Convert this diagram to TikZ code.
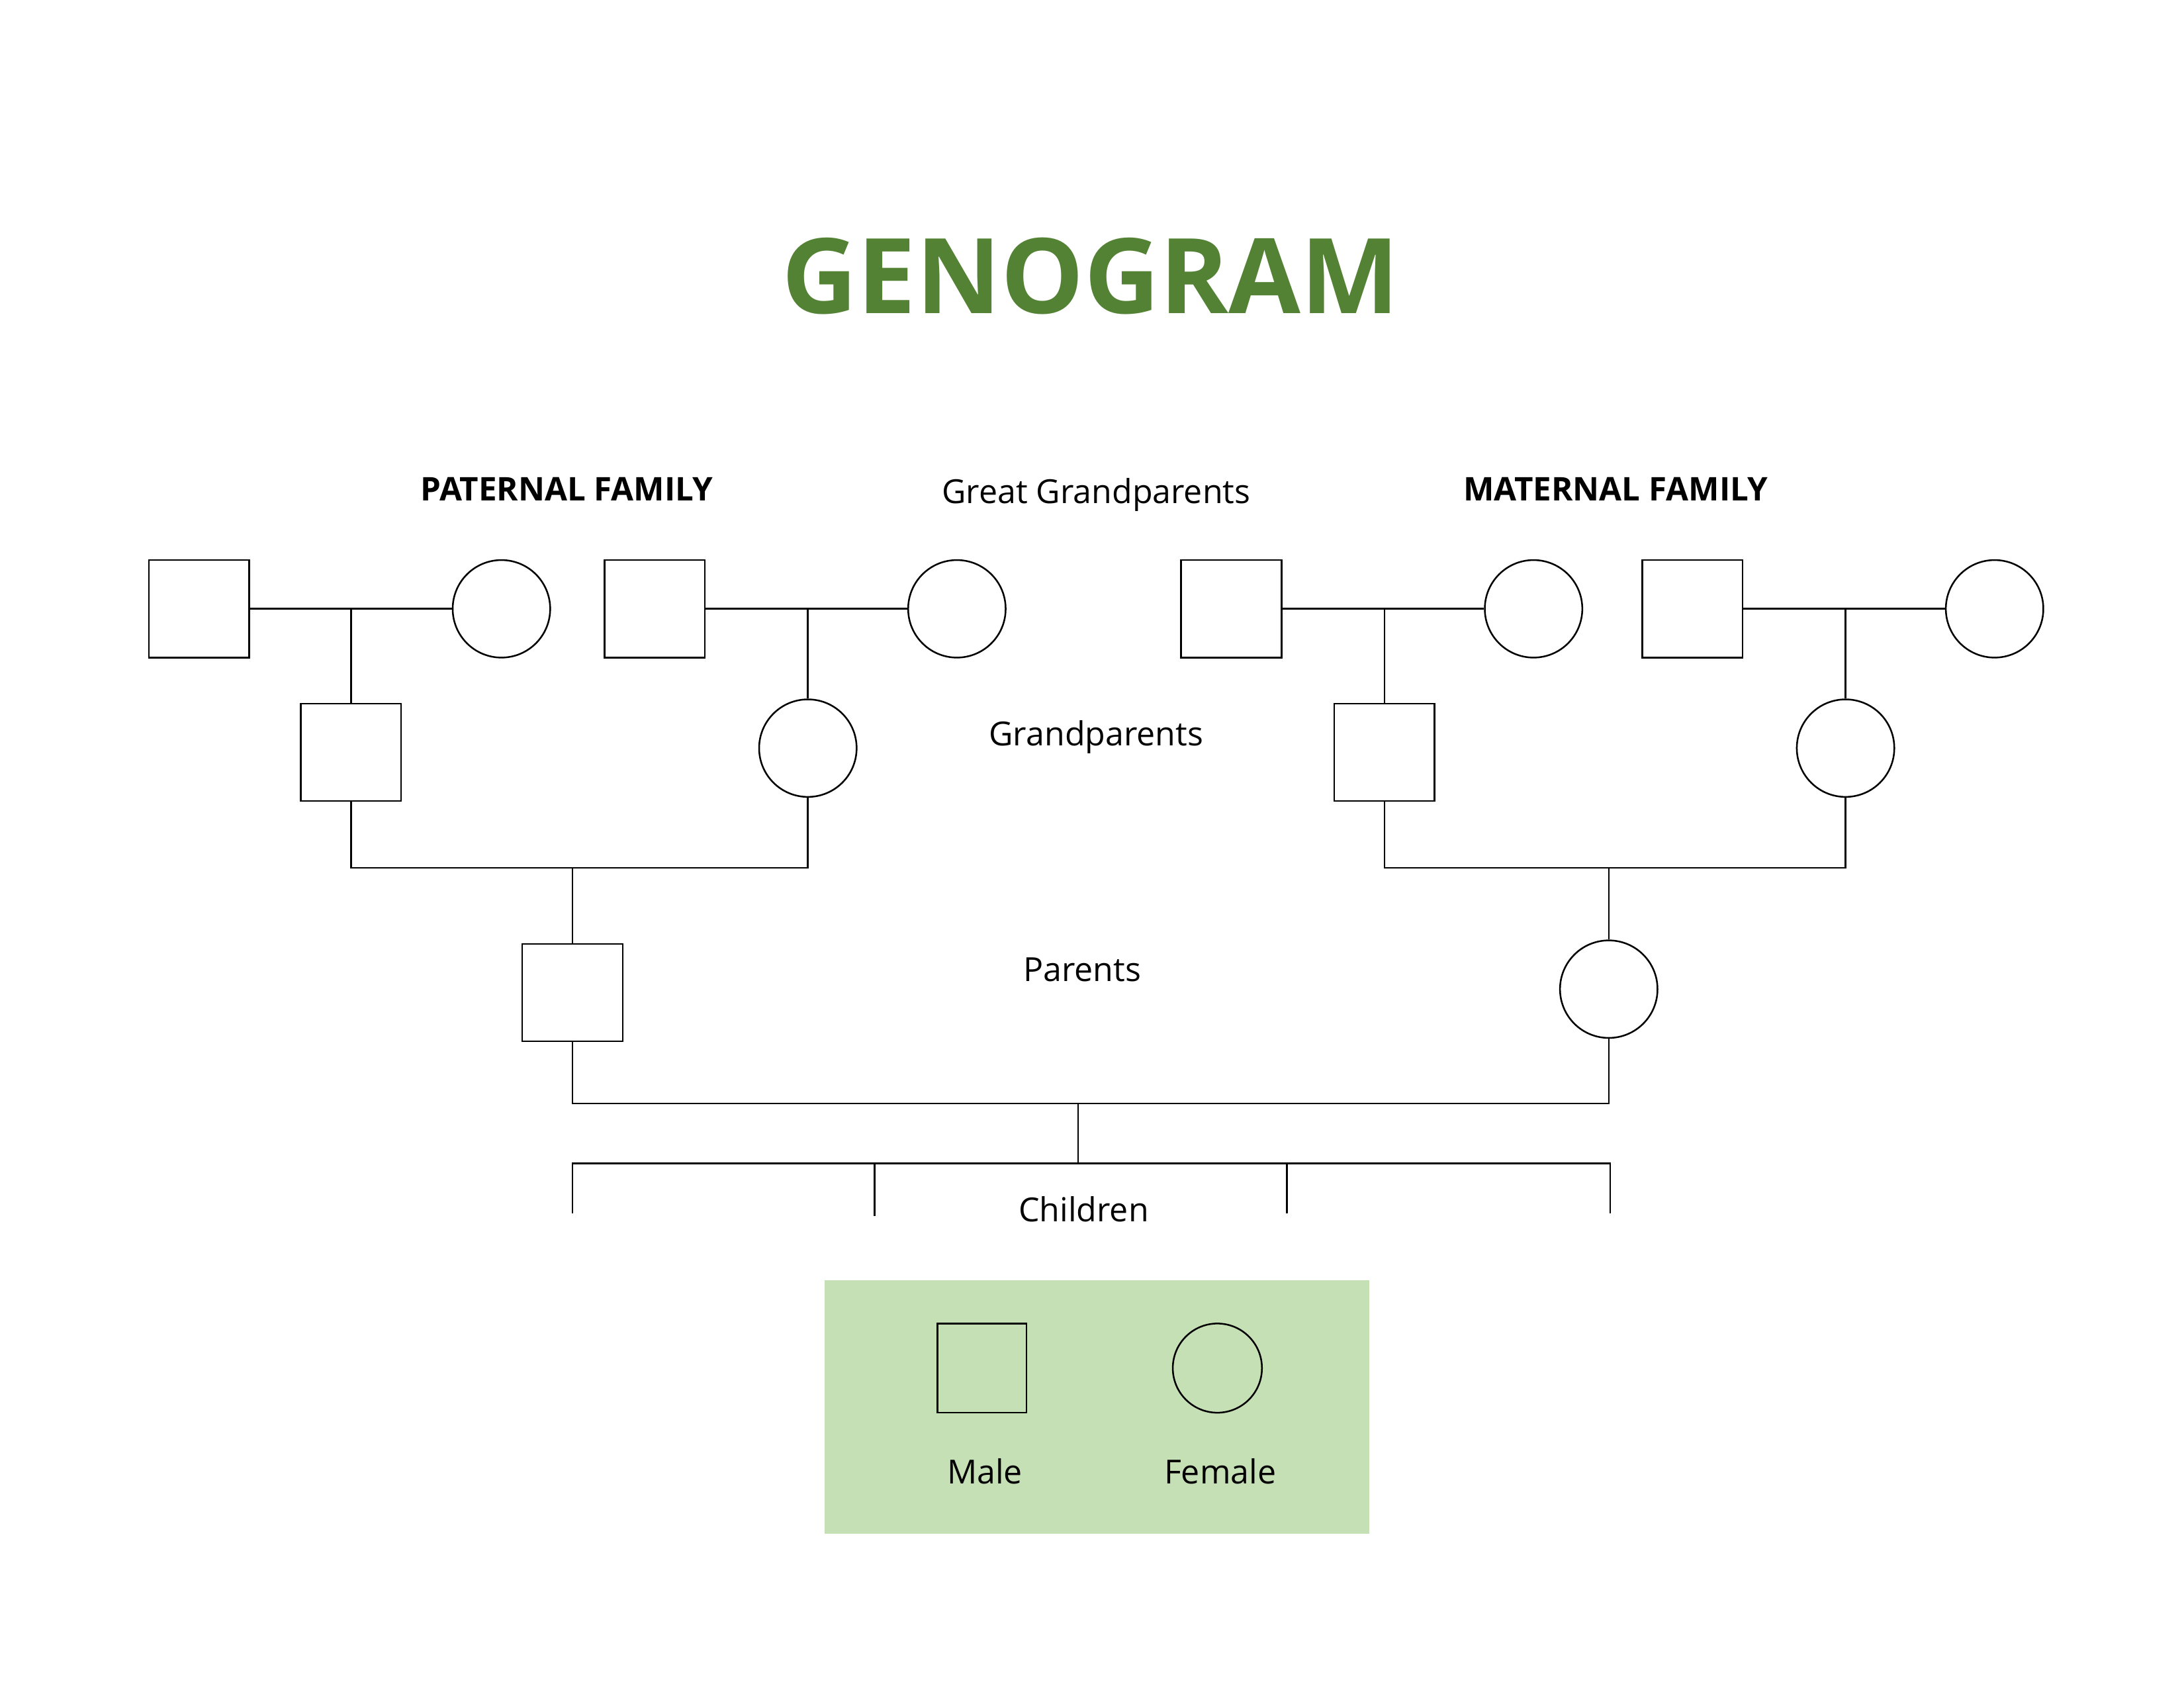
\documentclass[tikz,border=0pt]{standalone}
\usepackage{fontspec}
\setmainfont{Open Sans}
\definecolor{titlegreen}{HTML}{548235}
\definecolor{legendgreen}{HTML}{C5E0B4}
\begin{document}
\begin{tikzpicture}[x=0.5pt, y=-0.5pt, line width=0.6pt,
    male/.style={draw, rectangle, minimum width=36pt, minimum height=35pt, inner sep=0pt},
    female/.style={draw, circle, minimum size=35pt, inner sep=0pt},
    lbl/.style={font=\fontsize{11.9}{14}\selectfont},
    head/.style={font=\fontsize{11.7}{14}\selectfont\bfseries}]
    \useasboundingbox (0,0) rectangle (1568,1211.6);
    % titles
    \node[font=\fontsize{37.5}{45}\selectfont\bfseries, text=titlegreen] (title) at (783,198) {GENOGRAM};
    \node[head] (pat) at (407,351) {PATERNAL FAMILY};
    \node[head] (mat) at (1160,351) {MATERNAL FAMILY};
    \node[lbl] (lgg) at (787,355) {Great Grandparents};
    \node[lbl] (lgp) at (787,529) {Grandparents};
    \node[lbl] (lpa) at (777,696) {Parents};
    \node[lbl] (lch) at (778,868) {Children};
    % great grandparents
    \node[male] (ggm1) at (143,437) {};
    \node[female] (ggf1) at (360,437) {};
    \node[male] (ggm2) at (470,437) {};
    \node[female] (ggf2) at (687,437) {};
    \node[male] (ggm3) at (884,437) {};
    \node[female] (ggf3) at (1101,437) {};
    \node[male] (ggm4) at (1215,437) {};
    \node[female] (ggf4) at (1432,437) {};
    % grandparents
    \node[male] (gpm1) at (252,540) {};
    \node[female] (gpf1) at (580,537) {};
    \node[male] (gpm2) at (994,540) {};
    \node[female] (gpf2) at (1325,537) {};
    % parents
    \node[male] (father) at (411,712.5) {};
    \node[female] (mother) at (1155,710) {};
    % marriage lines
    \draw (ggm1) -- (ggf1);
    \draw (ggm2) -- (ggf2);
    \draw (ggm3) -- (ggf3);
    \draw (ggm4) -- (ggf4);
    \coordinate (j1) at (252,437);
    \coordinate (j2) at (580,437);
    \coordinate (j3) at (994,437);
    \coordinate (j4) at (1325,437);
    \draw (j1) -- (gpm1);
    \draw (j2) -- (gpf1);
    \draw (j3) -- (gpm2);
    \draw (j4) -- (gpf2);
    \coordinate (pbar) at (411,623);
    \coordinate (mbar) at (1155,623);
    \draw (gpm1.south) |- (pbar) -| (gpf1.south);
    \draw (pbar) -- (father);
    \draw (gpm2.south) |- (mbar) -| (gpf2.south);
    \draw (mbar) -- (mother);
    % children
    \coordinate (cbar) at (774,792);
    \coordinate (kbar) at (774,835);
    \draw (father.south) |- (cbar) -| (mother.south);
    \draw (cbar) -- (kbar);
    \coordinate (k1) at (411,871);
    \coordinate (k2) at (628,873);
    \coordinate (k3) at (924,871);
    \coordinate (k4) at (1156,871);
    \draw (k1) |- (kbar) -| (k4);
    \draw (k2) -- (k2 |- kbar);
    \draw (k3) -- (k3 |- kbar);
    % legend
    \fill[legendgreen] (592,919) rectangle (983,1101);
    \node[male, minimum width=32pt, minimum height=32pt] (keym) at (705,982) {};
    \node[female, minimum size=32pt] (keyf) at (874,982) {};
    \node[lbl] (lmale) at (707,1056) {Male};
    \node[lbl] (lfemale) at (876,1056) {Female};
\end{tikzpicture}
\end{document}
